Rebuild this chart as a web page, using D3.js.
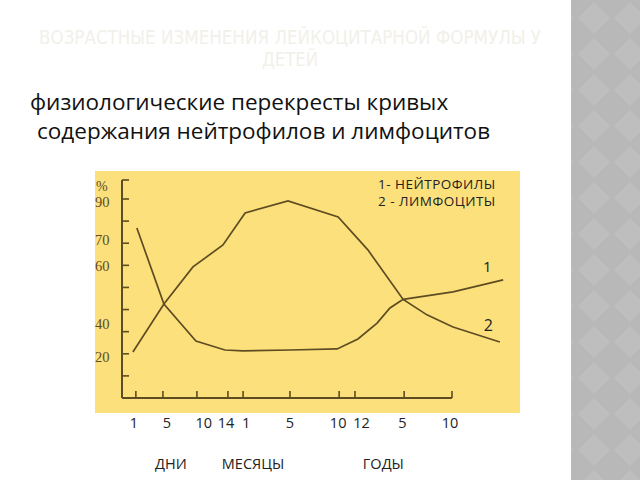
<!DOCTYPE html>
<html><head><meta charset="utf-8">
<script src="https://cdn.jsdelivr.net/npm/d3@7"></script>
<style>html,body{margin:0;padding:0;background:#fff;}svg{display:block;}</style>
</head><body>
<svg id="c" width="640" height="480"></svg>
<script>
// ---- data ----
// x in age-axis units (0..100 = drawn axis; piecewise days / months / years)
const neutroX = [4.5, 12.7, 22.4, 31.2, 36.7, 50.9, 65.2, 71.5, 77.3, 81.2, 85.2, 100.3, 115.5];
const neutroY = [76.9, 42.5, 25.8, 21.7, 21.3, 21.7, 22.2, 26.7, 33.9, 40.7, 44.6, 48.0, 53.4];
const lymphoX = [3.3, 12.7, 21.5, 30.6, 37.3, 50.3, 65.5, 74.5, 85.2, 92.4, 100.3, 114.5];
const lymphoY = [20.8, 42.5, 59.3, 69.2, 83.7, 89.1, 81.9, 67.0, 44.6, 37.6, 32.1, 25.3];
const xTickVals = [0, 4.2, 12.4, 22.7, 32.1, 36.7, 50.9, 65.8, 70.6, 85.5, 100];
const xTickLabels = ["1", "5", "10", "14", "1", "5", "10", "12", "5", "10"];
const xLabelAt = [3.6, 13.6, 24.8, 31.5, 37.6, 50.9, 65.5, 72.6, 85.0, 99.4];
const xGroups = ["ДНИ", "МЕСЯЦЫ", "ГОДЫ"];
const xGroupAt = [14.8, 39.7, 79.2];
const yTickVals = [10, 20, 30, 40, 50, 60, 70, 80, 90];
const yTickLabels = ["90", "70", "60", "40", "20"];
const yLabelAt = [88.6, 71.5, 59.5, 33.5, 18.5];
const legend = ["1- НЕЙТРОФИЛЫ", "2 - ЛИМФОЦИТЫ"];
const title = ["ВОЗРАСТНЫЕ ИЗМЕНЕНИЯ ЛЕЙКОЦИТАРНОЙ ФОРМУЛЫ У", "ДЕТЕЙ"];
const subtitle = ["физиологические перекресты кривых", "содержания нейтрофилов и лимфоцитов"];

const svg = d3.select("#c");
const ink = "#5e4c22";

// side decoration
const defs = svg.append("defs");
const pat = defs.append("pattern").attr("id","dia").attr("width",36).attr("height",36)
  .attr("patternUnits","userSpaceOnUse");
pat.append("rect").attr("width",36).attr("height",36).attr("fill","#b8b8b8");
pat.append("path").attr("d","M18 2 L34 18 L18 34 L2 18 Z").attr("fill","#bebebe");
svg.append("rect").attr("x",571).attr("y",0).attr("width",69).attr("height",480).attr("fill","url(#dia)");

// title (faint)
const tl = [502, 56];
svg.append("g").selectAll("text").data(title).join("text")
  .attr("x", 290).attr("y",(d,i)=>44+i*22).attr("text-anchor","middle")
  .attr("font-family","'Liberation Sans Narrow','DejaVu Sans Condensed',sans-serif")
  .attr("font-size",19).attr("fill","#f2f0ea")
  .attr("textLength",(d,i)=>tl[i]).attr("lengthAdjust","spacingAndGlyphs")
  .text(d=>d);

// subtitle
svg.append("g").selectAll("text").data(subtitle).join("text")
  .attr("x",(d,i)=>i?37:30).attr("y",(d,i)=>110+i*29)
  .attr("font-family","'Open Sans',sans-serif").attr("font-size",22.5).attr("fill","#111")
  .text(d=>d);

// yellow panel
svg.append("rect").attr("x",95).attr("y",171).attr("width",425).attr("height",242).attr("fill","#fbe07c");

const x = d3.scaleLinear().domain([0,100]).range([122,452]);
const y = d3.scaleLinear().domain([0,90]).range([398,199]);

// axes
const g = svg.append("g");
g.append("line").attr("x1",x(0)).attr("x2",x(0)).attr("y1",y(98.6)).attr("y2",y(0))
  .attr("stroke",ink).attr("stroke-width",2);
g.append("line").attr("x1",x(0)).attr("x2",x(100)).attr("y1",y(0)).attr("y2",y(0))
  .attr("stroke",ink).attr("stroke-width",2);
g.selectAll(".yt").data(yTickVals.concat([98.6])).join("line")
  .attr("x1",x(0)).attr("x2",x(0)+7).attr("y1",d=>y(d)).attr("y2",d=>y(d))
  .attr("stroke",ink).attr("stroke-width",1.6);
g.selectAll(".xt").data(xTickVals.slice(1)).join("line")
  .attr("x1",d=>x(d)).attr("x2",d=>x(d)).attr("y1",y(0)).attr("y2",y(0)-7)
  .attr("stroke",ink).attr("stroke-width",1.6);

// y labels
g.selectAll(".yl").data(yTickLabels).join("text")
  .attr("x",95).attr("y",(d,i)=>y(yLabelAt[i])+5)
  .attr("font-family","'Liberation Serif',serif").attr("font-size",14.5).attr("fill","#5e4c28")
  .text(d=>d);
g.append("text").attr("x",96).attr("y",y(95.6)+4).attr("font-family","'Liberation Serif',serif")
  .attr("font-size",14).attr("fill","#5e4c28").text("%");

// lines
const line = d3.line().x(d=>x(d[0])).y(d=>y(d[1])).curve(d3.curveLinear);
const n = neutroX.map((v,i)=>[v,neutroY[i]]);
const l = lymphoX.map((v,i)=>[v,lymphoY[i]]);
g.append("path").attr("d",line(n)).attr("fill","none").attr("stroke",ink).attr("stroke-width",1.7);
g.append("path").attr("d",line(l)).attr("fill","none").attr("stroke",ink).attr("stroke-width",1.7);

// series labels
g.append("text").attr("x",x(110.7)).attr("y",y(57)).attr("text-anchor","middle")
  .attr("font-family","'Open Sans',sans-serif").attr("font-size",15).attr("fill","#222").text("1");
g.append("text").attr("x",x(111)).attr("y",y(30.3)).attr("text-anchor","middle")
  .attr("font-family","'Open Sans',sans-serif").attr("font-size",16).attr("fill","#222").text("2");

// legend
g.selectAll(".lg").data(legend).join("text")
  .attr("x",378).attr("y",(d,i)=>189+i*16.5)
  .attr("font-family","'Open Sans',sans-serif").attr("font-size",13.5)
  .attr("letter-spacing",0.5).attr("fill","#222")
  .text(d=>d);

// x labels
svg.append("g").selectAll("text").data(xTickLabels).join("text")
  .attr("x",(d,i)=>x(xLabelAt[i])).attr("y",428).attr("text-anchor","middle")
  .attr("font-family","'Open Sans',sans-serif").attr("font-size",14.5).attr("fill","#222")
  .text(d=>d);
svg.append("g").selectAll("text").data(xGroups).join("text")
  .attr("x",(d,i)=>x(xGroupAt[i])).attr("y",469).attr("text-anchor","middle")
  .attr("font-family","'Open Sans',sans-serif").attr("font-size",14.5).attr("fill","#222")
  .text(d=>d);
</script>
</body></html>
